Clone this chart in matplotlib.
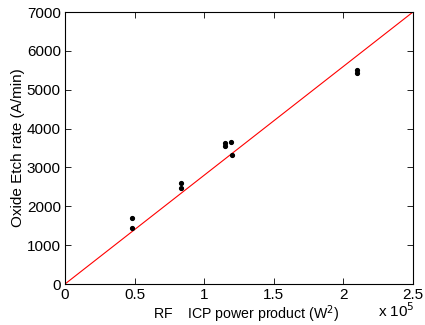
import matplotlib
matplotlib.use('Agg')
import matplotlib.pyplot as plt
import numpy as np

plt.rcParams['font.family'] = ['Liberation Sans', 'DejaVu Sans']
plt.rcParams['font.size'] = 11

# power product in units of 1e5 W^2, etch rate in A/min
power = [0.48, 0.48, 0.83, 0.83, 1.15, 1.15, 1.19, 1.20, 2.095, 2.095]
etch = [1710, 1450, 2590, 2470, 3630, 3550, 3660, 3320, 5520, 5440]
fit_x = [0, 2.5]
fit_slope = 2800

fig = plt.figure(figsize=(4.25, 3.25), dpi=100)
ax = fig.add_axes([65/425, 41/325, 348/425, 272/325])

ax.plot(fit_x, [fit_slope*v for v in fit_x], color='red', lw=0.8)
ax.plot(power, etch, 'k.', ms=5.5)

ax.set_xlim(0, 2.5)
ax.set_ylim(0, 7000)
ax.set_xticks([0, 0.5, 1, 1.5, 2, 2.5])
ax.set_xticklabels(['0', '0.5', '1', '1.5', '2', '2.5'])
ax.set_yticks(range(0, 7001, 1000))
ax.tick_params(direction='in', top=True, right=True, length=4, width=0.6, pad=3)
for s in ax.spines.values():
    s.set_linewidth(0.8)

ax.set_ylabel('Oxide Etch rate (A/min)', labelpad=1)
ax.set_xlabel(r'RF    ICP power product (W$^2$)', fontsize=10.2)
ax.xaxis.set_label_coords(0.52, -0.072)
fig.text(0.975, 0.025, r'x 10$^5$', ha='right', va='baseline')

fig.savefig('out.png', dpi=100)
